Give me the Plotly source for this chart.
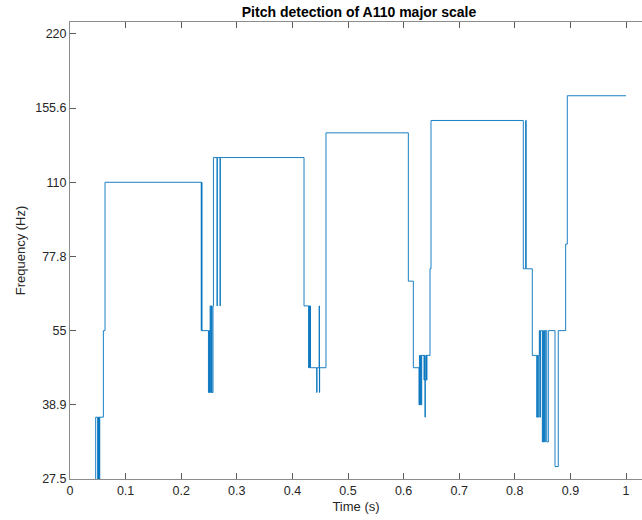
import plotly.graph_objects as go

# Detected pitch track (step changes): time in seconds, frequency in Hz.
# Values below 27.5 Hz mark frames where no pitch was found (drawn off-axis).
time_s = [
    0.0440, 0.0462, 0.0498, 0.0505, 0.0512, 0.0520, 0.0528, 0.0535, 0.0600, 0.0630,
    0.2360, 0.2367, 0.2374,
    0.2490, 0.2500, 0.2510, 0.2520, 0.2530, 0.2545, 0.2555, 0.2572, 0.2580,
    0.2645, 0.2649, 0.2699, 0.2703,
    0.4209,
    0.4291, 0.4300, 0.4310, 0.4318, 0.4326,
    0.4437, 0.4442,
    0.4482, 0.4486, 0.4490,
    0.4604,
    0.6085, 0.6175,
    0.6277, 0.6285, 0.6295, 0.6305, 0.6318, 0.6326,
    0.6367, 0.6375, 0.6385, 0.6390, 0.6400, 0.6412, 0.6420,
    0.6475, 0.6493,
    0.8153, 0.8195, 0.8205,
    0.8315,
    0.8394, 0.8405, 0.8415, 0.8430,
    0.8441, 0.8450, 0.8462,
    0.8495, 0.8505, 0.8515, 0.8530, 0.8540, 0.8548,
    0.8574, 0.8603,
    0.8723, 0.8782,
    0.8915, 0.8944, 1.0000,
]
freq_hz = [
    25.96, 36.71, 25.96, 36.71, 25.96, 36.71, 25.96, 36.71, 55.00, 110.00,
    55.00, 110.00, 55.00,
    41.20, 55.00, 41.20, 61.74, 41.20, 61.74, 41.20, 61.74, 123.47,
    61.74, 123.47, 61.74, 123.47,
    61.74,
    46.25, 61.74, 46.25, 61.74, 46.25,
    41.20, 46.25,
    61.74, 41.20, 46.25,
    138.59,
    69.30, 46.25,
    38.89, 49.00, 38.89, 49.00, 38.89, 49.00,
    43.65, 49.00, 36.71, 43.65, 49.00, 43.65, 49.00,
    73.42, 146.83,
    73.42, 146.83, 73.42,
    49.00,
    36.71, 49.00, 36.71, 49.00,
    55.00, 36.71, 55.00,
    32.70, 55.00, 32.70, 55.00, 32.70, 55.00,
    32.70, 55.00,
    29.14, 55.00,
    82.41, 164.81, 164.81,
]

# Half-octave ticks on the frequency axis
y_tick_vals = [27.5, 38.89, 55, 77.78, 110, 155.56, 220]
y_tick_text = ["27.5", "38.9", "55", "77.8", "110", "155.6", "220"]

W, H = 642, 520
L, R, T, B = 70, 0, 22, 41

fig = go.Figure(
    go.Scatter(
        x=time_s,
        y=freq_hz,
        mode="lines",
        line=dict(color="#0072BD", width=0.9, shape="hv"),
        hoverinfo="skip",
    )
)

font_family = "Liberation Sans, Arial, Helvetica, sans-serif"
axis_line = "#8c8c8c"
tick_col = "#5a5a5a"
text_col = "#262626"

fig.update_layout(
    width=W,
    height=H,
    margin=dict(l=L, r=R, t=T, b=B),
    paper_bgcolor="white",
    plot_bgcolor="white",
    showlegend=False,
    font=dict(family=font_family, size=12.5, color=text_col),
    title=dict(
        text="<b>Pitch detection of A110 major scale</b>",
        font=dict(family=font_family, size=14, color="#000000"),
        x=359 / W,
        xref="container",
        xanchor="center",
        y=1 - 12 / H,
        yref="container",
        yanchor="middle",
    ),
)

fig.update_xaxes(
    range=[0, (W - L - R) / 556],
    tick0=0,
    dtick=0.1,
    showgrid=False,
    zeroline=False,
    showline=True,
    linecolor=axis_line,
    linewidth=1,
    mirror="ticks",
    ticks="inside",
    ticklen=6,
    tickcolor=tick_col,
    tickfont=dict(size=12.5, color=text_col),
    title=dict(text="Time (s)", font=dict(size=13, color=text_col), standoff=4),
    automargin=False,
)

fig.update_yaxes(
    type="log",
    range=[1.439333, 2.36661],
    tickvals=y_tick_vals,
    ticktext=y_tick_text,
    showgrid=False,
    zeroline=False,
    showline=True,
    linecolor=axis_line,
    linewidth=1,
    mirror=False,
    ticks="inside",
    ticklen=6,
    tickcolor=tick_col,
    tickfont=dict(size=12.5, color=text_col),
    title=dict(text="Frequency (Hz)", font=dict(size=13, color=text_col), standoff=6),
    automargin=False,
)

fig.write_html("out.html")
